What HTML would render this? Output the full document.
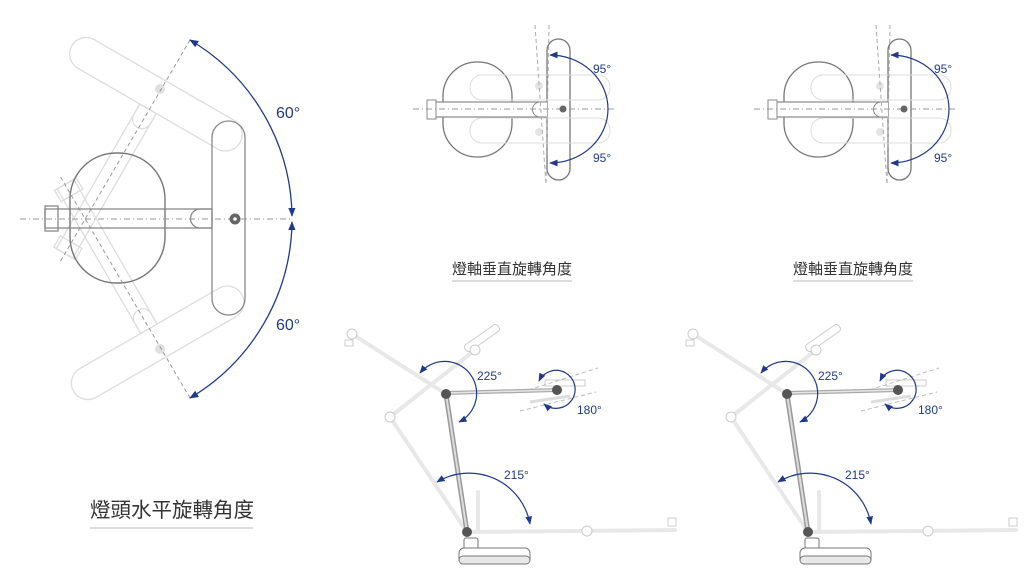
<!DOCTYPE html>
<html><head><meta charset="utf-8"><style>
html,body{margin:0;padding:0;background:#fff;width:1024px;height:575px;overflow:hidden}
svg{display:block}
text{font-family:"Liberation Sans","Noto Sans CJK TC",sans-serif}
</style></head><body>
<svg width="1024" height="575" viewBox="0 0 1024 575" xmlns="http://www.w3.org/2000/svg">
<defs>
<marker id="ah" viewBox="0 0 10 10" refX="9" refY="5" markerWidth="7" markerHeight="7" orient="auto-start-reverse">
<path d="M0,1 L10,5 L0,9 Z" fill="#1f3a8a"/></marker>
<g id="lampTop">
  <rect x="212" y="121" width="33" height="194" rx="16.5" fill="none"/>
  <rect x="45" y="209" width="167" height="19" fill="none"/>
  <path d="M212,209 L200,209 A9.5,9.5 0 0 0 200,228 L212,228" fill="none"/>
  <rect x="45" y="206" width="13" height="25" fill="none"/>
</g>
<g id="sideTop">
  <rect x="547" y="39" width="23" height="141" rx="11.5" fill="#fff" stroke="#777" stroke-width="1.3"/>
  <rect x="443" y="62" width="69" height="95" rx="34" fill="none" stroke="#777" stroke-width="1.3"/>
  <rect x="470" y="75" width="140" height="25" rx="12" fill="none" stroke="#ddd"/>
  <rect x="470" y="118" width="140" height="25" rx="12" fill="none" stroke="#ddd"/>
  <rect x="432" y="102" width="115" height="15" fill="#fff" stroke="#888" stroke-width="1.2"/>
  <path d="M547,102 L540,102 A7.5,7.5 0 0 0 540,117 L547,117" fill="#fff" stroke="#888"/>
  <rect x="427" y="100" width="9" height="19" fill="#fff" stroke="#888"/>
  <circle cx="539" cy="86" r="4" fill="#e4e4e4"/>
  <circle cx="539" cy="132" r="4" fill="#e4e4e4"/>
  <line x1="413" y1="109" x2="615" y2="109" stroke="#999" stroke-dasharray="6,3,1,3"/>
  <line x1="535" y1="25" x2="546" y2="185" stroke="#aaa" stroke-dasharray="4,3"/>
  <line x1="549" y1="25" x2="546" y2="185" stroke="#aaa" stroke-dasharray="4,3"/>
  <circle cx="563" cy="109" r="3.5" fill="#666"/>
  <path d="M550,55 A58,54 0 0 1 550,163" fill="none" stroke="#1f3a8a" stroke-width="1.2" marker-start="url(#ah)" marker-end="url(#ah)"/>
  <text x="593" y="73" font-size="12" fill="#1f3a8a">95°</text>
  <text x="593" y="162" font-size="12" fill="#1f3a8a">95°</text>
  <text x="452" y="274" font-size="15" fill="#333">燈軸垂直旋轉角度</text>
  <line x1="452" y1="281" x2="572" y2="281" stroke="#bbb"/>
</g>
<g id="side">
  <g stroke="#e8e8e8" stroke-width="4" fill="none" stroke-linecap="round">
    <line x1="467" y1="532" x2="390" y2="417"/>
    <line x1="390" y1="417" x2="475" y2="350"/>
    <line x1="446" y1="394" x2="352" y2="334"/>
    <line x1="467" y1="532" x2="675" y2="530"/>
    <line x1="478" y1="530" x2="478" y2="492"/>
  </g>
  <rect x="462" y="334" width="40" height="8" rx="3" transform="rotate(-35 482 338)" fill="#fff" stroke="#ccc"/>
  <circle cx="475" cy="350" r="5" fill="#fff" stroke="#ccc"/>
  <circle cx="390" cy="417" r="5" fill="#fff" stroke="#ccc"/>
  <circle cx="352" cy="334" r="5" fill="#fff" stroke="#ccc"/>
  <circle cx="587" cy="531" r="5" fill="#fff" stroke="#ccc"/>
  <rect x="668" y="518" width="8" height="8" fill="none" stroke="#ccc"/>
  <rect x="345" y="340" width="8" height="6" fill="none" stroke="#ccc"/>
  <rect x="545" y="380" width="40" height="6" fill="#fff" stroke="#ccc"/>
  <line x1="522" y1="392" x2="598" y2="368" stroke="#bbb" stroke-dasharray="4,3"/>
  <line x1="520" y1="411" x2="596" y2="392" stroke="#bbb" stroke-dasharray="4,3"/>
  <line x1="530" y1="402" x2="570" y2="396" stroke="#ddd" stroke-width="3"/>
  <line x1="467" y1="532" x2="446" y2="394" stroke="#999" stroke-width="5"/>
  <line x1="467" y1="532" x2="446" y2="394" stroke="#ddd" stroke-width="2"/>
  <line x1="446" y1="393" x2="557" y2="390" stroke="#aaa" stroke-width="4"/>
  <line x1="446" y1="393" x2="557" y2="390" stroke="#e6e6e6" stroke-width="1.5"/>
  <circle cx="446" cy="394" r="5" fill="#555"/>
  <circle cx="557" cy="390" r="5" fill="#555"/>
  <rect x="464" y="538" width="14" height="11" rx="2" fill="#fff" stroke="#777"/>
  <rect x="459" y="548" width="71" height="16" rx="5" fill="#fff" stroke="#777"/>
  <rect x="459" y="556" width="71" height="8" rx="4" fill="#e8e8e8" stroke="#777"/>
  <circle cx="467" cy="532" r="5" fill="#555"/>
  <g stroke="#1f3a8a" stroke-width="1.2" fill="none">
    <path d="M420,373 A32,32 0 1 1 459,422" marker-start="url(#ah)" marker-end="url(#ah)"/>
    <path d="M437,482 A62,62 0 0 1 530,524" marker-start="url(#ah)" marker-end="url(#ah)"/>
    <path d="M539,381 A19,19 0 1 1 544,404" marker-start="url(#ah)" marker-end="url(#ah)"/>
  </g>
  <text x="477" y="380" font-size="12" fill="#1f3a8a">225°</text>
  <text x="577" y="414" font-size="12" fill="#1f3a8a">180°</text>
  <text x="504" y="479" font-size="12" fill="#1f3a8a">215°</text>
</g>
</defs>

<g stroke="#ddd" stroke-width="1.3" fill="#fff">
  <use href="#lampTop" transform="rotate(-60 85 219)"/>
  <use href="#lampTop" transform="rotate(60 85 219)"/>
</g>
<circle cx="160" cy="89" r="5" fill="#e0e0e0"/>
<circle cx="160" cy="349" r="5" fill="#e0e0e0"/>
<rect x="70" y="153" width="95" height="130" rx="46" fill="none" stroke="#777" stroke-width="1.4"/>
<g stroke="#888" stroke-width="1.3" fill="#fff">
  <use href="#lampTop"/>
</g>
<line x1="20" y1="219" x2="293" y2="219" stroke="#999" stroke-dasharray="6,3,1,3"/>
<line x1="190" y1="40" x2="60" y2="262" stroke="#999" stroke-dasharray="4,3"/>
<line x1="190" y1="398" x2="60" y2="176" stroke="#999" stroke-dasharray="4,3"/>
<circle cx="235" cy="219" r="5.5" fill="#666"/>
<circle cx="235" cy="219" r="1.8" fill="#fff"/>
<g stroke="#1f3a8a" stroke-width="1.3" fill="none">
  <path d="M190,40 A208,208 0 0 1 292,216" marker-start="url(#ah)" marker-end="url(#ah)"/>
  <path d="M292,222 A208,208 0 0 1 190,398" marker-start="url(#ah)" marker-end="url(#ah)"/>
</g>
<text x="276" y="118" font-size="16" fill="#1f3a8a">60°</text>
<text x="276" y="330" font-size="16" fill="#1f3a8a">60°</text>
<text x="90" y="517" font-size="20.5" fill="#333">燈頭水平旋轉角度</text>
<line x1="90" y1="528" x2="253" y2="528" stroke="#bbb"/>

<use href="#sideTop"/>
<use href="#sideTop" transform="translate(341 0)"/>
<use href="#side"/>
<use href="#side" transform="translate(341 0)"/>
</svg>
</body></html>
